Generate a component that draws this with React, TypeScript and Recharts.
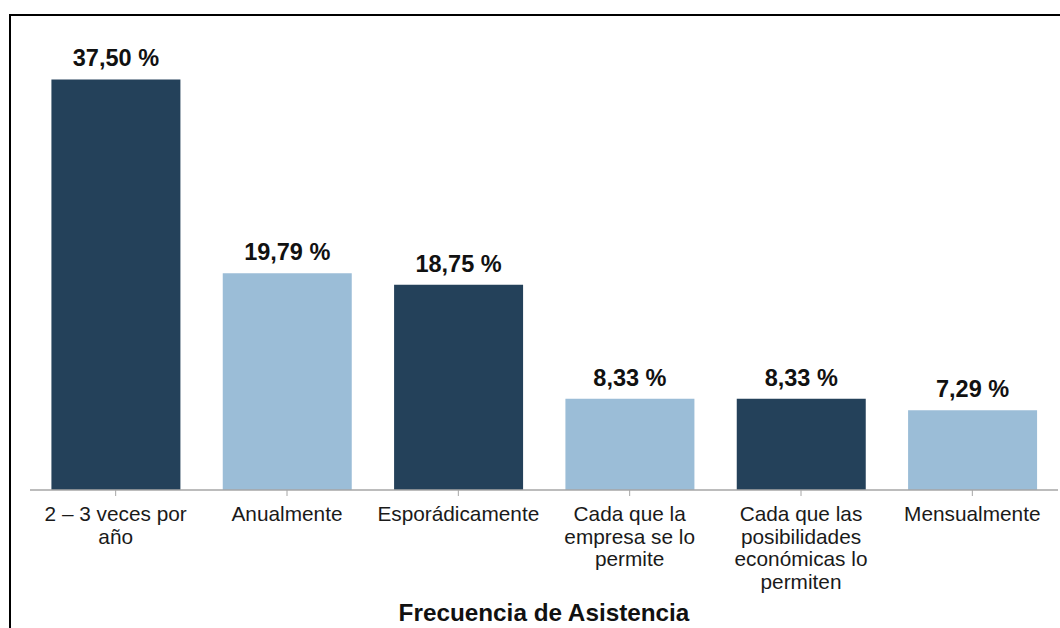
import React from "react";
import { BarChart, Bar, XAxis, YAxis, Cell, LabelList, Label } from "recharts";

const categories = [
  "2 – 3 veces por\naño",
  "Anualmente",
  "Esporádicamente",
  "Cada que la\nempresa se lo\npermite",
  "Cada que las\nposibilidades\neconómicas lo\npermiten",
  "Mensualmente",
];
const values = [37.5, 19.79, 18.75, 8.33, 8.33, 7.29];
const axisTitle = "Frecuencia de Asistencia";

const palette = ["#24415A", "#9BBDD7"];
const FONT = "'Liberation Sans', Arial, sans-serif";

const data = categories.map((c, i) => ({ name: c, value: values[i] }));

const fmt = (v: number) => v.toFixed(2).replace(".", ",") + " %";

const WrappedTick = (props: any) => {
  const { x, y, payload } = props;
  const lines = String(payload.value).split("\n");
  return (
    <text x={x} y={y} textAnchor="middle" fill="#1a1a1a" fontFamily={FONT} fontSize={20.8}>
      {lines.map((l, i) => (
        <tspan key={i} x={x} dy={i === 0 ? 23 : 22.5}>
          {l}
        </tspan>
      ))}
    </text>
  );
};

export default function App() {
  return (
    <div
      style={{
        position: "fixed",
        left: 0,
        top: 0,
        width: 1060,
        height: 628,
        overflow: "hidden",
        background: "#fff",
      }}
    >
      <div
        style={{
          position: "absolute",
          left: 9,
          top: 14,
          width: 1100,
          height: 700,
          borderTop: "2px solid #000",
          borderLeft: "2px solid #000",
        }}
      />
      <div style={{ position: "absolute", left: 0, top: 0 }}>
        <BarChart
          width={1060}
          height={628}
          data={data}
          margin={{ top: 52, right: 2, bottom: 0, left: 30 }}
          barCategoryGap="12.5%"
        >
          <YAxis hide domain={[0, 40]} />
          <XAxis
            dataKey="name"
            height={138}
            interval={0}
            tick={<WrappedTick />}
            tickLine={{ stroke: "#A6A6A6" }}
            axisLine={{ stroke: "#A6A6A6", strokeWidth: 1.5 }}
            tickSize={6}
          >
            <Label
              value={axisTitle}
              position="insideBottom"
              offset={7}
              fill="#111"
              fontFamily={FONT}
              fontSize={24.3}
              fontWeight="bold"
            />
          </XAxis>
          <Bar dataKey="value" isAnimationActive={false}>
            {data.map((_, i) => (
              <Cell key={i} fill={palette[i % 2]} />
            ))}
            <LabelList
              dataKey="value"
              position="top"
              offset={13}
              formatter={(v: any) => fmt(Number(v))}
              fill="#111"
              fontFamily={FONT}
              fontSize={23.5}
              fontWeight="bold"
            />
          </Bar>
        </BarChart>
      </div>
    </div>
  );
}
